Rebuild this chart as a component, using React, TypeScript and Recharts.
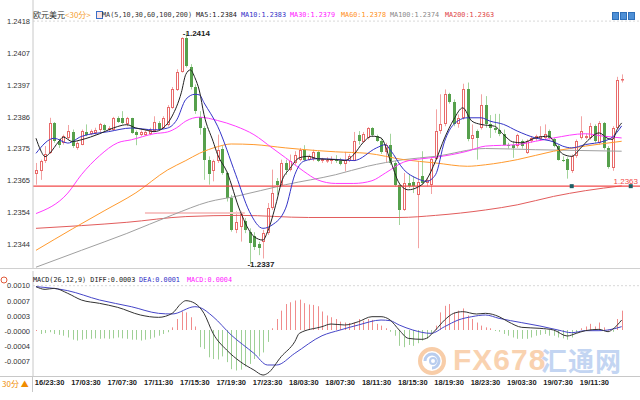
import React from 'react';
import { ComposedChart, Bar, Line, XAxis, YAxis, ReferenceLine, ReferenceDot } from 'recharts';

// [open, high, low, close] per 30-minute bar, bar 0 = 16/22:00
const ohlc: [number, number, number, number][] = [
  [1.23671,1.23707,1.23635,1.23685],[1.23681,1.23718,1.23651,1.23713],[1.23713,1.23763,1.23707,1.23737],[1.23740,1.23857,1.23737,1.23840],
  [1.23840,1.23843,1.23774,1.23779],[1.23779,1.23787,1.23757,1.23768],[1.23774,1.23801,1.23768,1.23796],[1.23790,1.23833,1.23785,1.23813],
  [1.23810,1.23818,1.23757,1.23763],[1.23757,1.23779,1.23751,1.23774],[1.23768,1.23818,1.23766,1.23813],[1.23810,1.23835,1.23796,1.23801],
  [1.23804,1.23818,1.23799,1.23813],[1.23807,1.23824,1.23801,1.23818],[1.23815,1.23840,1.23810,1.23835],[1.23833,1.23837,1.23813,1.23818],
  [1.23815,1.23829,1.23810,1.23824],[1.23818,1.23860,1.23815,1.23855],[1.23855,1.23862,1.23840,1.23844],[1.23855,1.23879,1.23835,1.23840],
  [1.23835,1.23860,1.23829,1.23855],[1.23855,1.23857,1.23804,1.23807],[1.23810,1.23815,1.23766,1.23801],[1.23801,1.23815,1.23796,1.23810],
  [1.23801,1.23815,1.23797,1.23810],[1.23804,1.23824,1.23799,1.23818],[1.23813,1.23862,1.23810,1.23844],[1.23840,1.23846,1.23817,1.23820],
  [1.23824,1.23862,1.23820,1.23855],[1.23833,1.23899,1.23828,1.23893],[1.23890,1.23959,1.23887,1.23951],[1.23950,1.24018,1.23946,1.24010],
  [1.24010,1.24124,1.24007,1.24121],[1.24121,1.24140,1.24024,1.24029],[1.24026,1.24035,1.23951,1.23959],[1.23959,1.23968,1.23870,1.23879],
  [1.23860,1.23879,1.23801,1.23824],[1.23824,1.23829,1.23651,1.23718],[1.23718,1.23729,1.23635,1.23671],[1.23679,1.23718,1.23646,1.23713],
  [1.23713,1.23801,1.23707,1.23751],[1.23755,1.23763,1.23668,1.23674],[1.23674,1.23679,1.23579,1.23590],[1.23590,1.23601,1.23479,1.23485],
  [1.23485,1.23546,1.23474,1.23510],[1.23493,1.23546,1.23446,1.23540],[1.23515,1.23524,1.23474,1.23485],[1.23477,1.23490,1.23372,1.23440],
  [1.23466,1.23477,1.23418,1.23429],[1.23437,1.23446,1.23401,1.23424],[1.23446,1.23485,1.23390,1.23474],[1.23474,1.23574,1.23468,1.23557],
  [1.23557,1.23685,1.23551,1.23607],[1.23646,1.23657,1.23601,1.23635],[1.23635,1.23718,1.23629,1.23707],[1.23707,1.23718,1.23668,1.23685],
  [1.23685,1.23735,1.23679,1.23713],[1.23707,1.23746,1.23701,1.23735],[1.23718,1.23757,1.23713,1.23751],[1.23751,1.23766,1.23713,1.23718],
  [1.23718,1.23735,1.23715,1.23729],[1.23721,1.23751,1.23713,1.23744],[1.23744,1.23746,1.23710,1.23715],[1.23713,1.23724,1.23707,1.23720],
  [1.23713,1.23726,1.23707,1.23718],[1.23715,1.23729,1.23704,1.23721],[1.23721,1.23733,1.23707,1.23713],[1.23715,1.23724,1.23699,1.23704],
  [1.23704,1.23744,1.23679,1.23717],[1.23715,1.23737,1.23710,1.23729],[1.23715,1.23810,1.23713,1.23779],[1.23799,1.23813,1.23768,1.23781],
  [1.23777,1.23810,1.23774,1.23804],[1.23790,1.23826,1.23785,1.23824],[1.23824,1.23826,1.23793,1.23799],[1.23796,1.23801,1.23777,1.23781],
  [1.23781,1.23790,1.23737,1.23744],[1.23744,1.23774,1.23710,1.23768],[1.23768,1.23804,1.23701,1.23707],[1.23707,1.23713,1.23629,1.23635],
  [1.23635,1.23640,1.23501,1.23551],[1.23551,1.23674,1.23548,1.23640],[1.23640,1.23668,1.23624,1.23629],[1.23644,1.23663,1.23607,1.23629],
  [1.23601,1.23713,1.23424,1.23644],[1.23663,1.23746,1.23635,1.23640],[1.23640,1.23657,1.23629,1.23651],[1.23635,1.23726,1.23604,1.23721],
  [1.23721,1.23885,1.23718,1.23813],[1.23813,1.23935,1.23804,1.23835],[1.23835,1.23951,1.23829,1.23935],[1.23935,1.23940,1.23904,1.23910],
  [1.23910,1.23918,1.23829,1.23835],[1.23835,1.23868,1.23824,1.23857],[1.23857,1.23970,1.23851,1.23951],[1.23951,1.23974,1.23779,1.23785],
  [1.23785,1.23835,1.23751,1.23801],[1.23813,1.23818,1.23718,1.23790],[1.23824,1.23935,1.23818,1.23901],[1.23901,1.23929,1.23824,1.23835],
  [1.23835,1.23866,1.23790,1.23824],[1.23824,1.23870,1.23807,1.23818],[1.23818,1.23870,1.23796,1.23804],[1.23804,1.23818,1.23766,1.23768],
  [1.23768,1.23774,1.23755,1.23763],[1.23766,1.23779,1.23724,1.23757],[1.23763,1.23804,1.23757,1.23799],[1.23779,1.23785,1.23755,1.23763],
  [1.23740,1.23785,1.23737,1.23779],[1.23779,1.23796,1.23774,1.23790],[1.23788,1.23801,1.23781,1.23796],[1.23788,1.23829,1.23781,1.23796],
  [1.23790,1.23835,1.23785,1.23804],[1.23813,1.23818,1.23785,1.23790],[1.23785,1.23790,1.23759,1.23763],[1.23763,1.23768,1.23715,1.23718],
  [1.23718,1.23729,1.23710,1.23715],[1.23721,1.23726,1.23655,1.23685],[1.23679,1.23735,1.23674,1.23729],[1.23729,1.23785,1.23724,1.23779],
  [1.23790,1.23862,1.23785,1.23813],[1.23790,1.23804,1.23785,1.23796],[1.23790,1.23840,1.23785,1.23829],[1.23829,1.23835,1.23774,1.23779],
  [1.23774,1.23846,1.23768,1.23840],[1.23840,1.23843,1.23751,1.23757],[1.23757,1.23763,1.23688,1.23693],[1.23690,1.23829,1.23681,1.23824],
  [1.23824,1.23993,1.23822,1.23981],[1.23981,1.24001,1.23974,1.23985],
];

// moving averages: [bar, value]
const ma5: [number, number][] = [[0,1.23789],[1,1.23750],[2,1.23728],[3,1.23739],[5,1.23778],[6,1.23793],[8,1.23778],[10,1.23784],[12,1.23793],[14,1.23804],[16,1.23817],[18,1.23828],[20,1.23834],[22,1.23823],[24,1.23817],[26,1.23811],[28,1.23823],[30,1.23863],[32,1.23940],[33,1.24001],[34,1.24016],[35,1.23990],[36,1.23946],[37,1.23868],[39,1.23779],[40,1.23735],[42,1.23679],[45,1.23546],[48,1.23463],[50,1.23451],[51,1.23479],[53,1.23579],[54,1.23640],[56,1.23690],[58,1.23724],[60,1.23729],[62,1.23721],[66,1.23718],[68,1.23715],[70,1.23735],[72,1.23774],[74,1.23796],[76,1.23790],[78,1.23718],[80,1.23640],[82,1.23618],[84,1.23626],[86,1.23651],[88,1.23713],[90,1.23790],[92,1.23851],[94,1.23890],[96,1.23846],[98,1.23835],[101,1.23829],[103,1.23801],[105,1.23777],[107,1.23774],[110,1.23790],[113,1.23796],[114,1.23779],[116,1.23737],[118,1.23729],[120,1.23757],[122,1.23788],[124,1.23807],[126,1.23788],[127,1.23785],[128,1.23818],[129,1.23840]];
const ma10: [number, number][] = [[0,1.23739],[4,1.23789],[7,1.23773],[10,1.23795],[16,1.23811],[21,1.23823],[26,1.23817],[29,1.23823],[31,1.23850],[33,1.23918],[35,1.23935],[36,1.23933],[37,1.23907],[40,1.23829],[44,1.23668],[47,1.23546],[50,1.23490],[52,1.23501],[55,1.23557],[57,1.23668],[59,1.23713],[62,1.23721],[67,1.23718],[70,1.23715],[75,1.23757],[77,1.23768],[78,1.23751],[81,1.23685],[84,1.23655],[86,1.23646],[88,1.23668],[90,1.23779],[92,1.23835],[95,1.23857],[98,1.23857],[100,1.23846],[103,1.23835],[106,1.23813],[110,1.23790],[114,1.23777],[116,1.23763],[118,1.23757],[121,1.23768],[125,1.23779],[127,1.23793],[129,1.23830]];
const ma30: [number, number][] = [[0,1.23539],[7,1.23607],[10,1.23668],[14,1.23731],[18,1.23774],[21,1.23784],[26,1.23804],[29,1.23810],[31,1.23824],[33,1.23846],[36,1.23859],[40,1.23848],[44,1.23829],[48,1.23801],[52,1.23757],[55,1.23724],[59,1.23679],[62,1.23651],[66,1.23639],[70,1.23639],[74,1.23648],[77,1.23674],[81,1.23710],[85,1.23721],[88,1.23726],[95,1.23746],[99,1.23763],[106,1.23768],[110,1.23779],[114,1.23790],[121,1.23804],[125,1.23796],[129,1.23790]];
const ma60: [number, number][] = [[0,1.23417],[8,1.23488],[15,1.23548],[22,1.23608],[29,1.23684],[33,1.23715],[36,1.23739],[40,1.23761],[43,1.23770],[48,1.23768],[55,1.23757],[62,1.23748],[66,1.23744],[73,1.23739],[81,1.23718],[88,1.23707],[95,1.23696],[99,1.23701],[106,1.23718],[114,1.23746],[121,1.23763],[129,1.23779]];
const ma100: [number, number][] = [[0,1.23361],[10,1.23417],[20,1.23473],[30,1.23534],[38,1.23578],[44,1.23596],[55,1.23635],[66,1.23668],[73,1.23696],[81,1.23718],[88,1.23729],[99,1.23755],[110,1.23751],[129,1.23746]];
const ma200: [number, number][] = [[0,1.23490],[10,1.23499],[20,1.23510],[33,1.23529],[45,1.23533],[60,1.23526],[80,1.23526],[88,1.23533],[99,1.23551],[106,1.23568],[114,1.23596],[121,1.23615],[129,1.23631]];
const ma200Ghost: [number, number][] = [[24,1.23541],[46,1.23541]];

// MACD(26,12,9)
const diff: [number, number][] = [[0,0.000985],[2,0.000924],[4,0.000947],[7,0.000833],[10,0.000682],[14,0.000606],[18,0.000515],[23,0.000341],[27,0.000288],[30,0.000379],[32,0.000606],[33,0.000667],[35,0.000606],[37,0.000379],[39,-0.000076],[42,-0.000455],[45,-0.000720],[48,-0.000909],[50,-0.001023],[51,-0.000985],[54,-0.000606],[57,-0.000265],[58,-0.000076],[63,0.000076],[65,0.000136],[68,0.000114],[71,0.000189],[74,0.000303],[76,0.000303],[78,0.000227],[80,0],[82,-0.000189],[85,-0.000212],[86,-0.000189],[88,0],[90,0.000227],[92,0.000379],[94,0.000417],[97,0.000364],[99,0.000379],[102,0.000303],[104,0.000189],[107,0.000061],[111,0.000038],[114,0],[117,-0.000136],[119,-0.000076],[121,-0.000015],[124,0.000015],[126,-0.000038],[127,0.000015],[129,0.000227]];
const dea: [number, number][] = [[0,0.000985],[7,0.000894],[14,0.000682],[21,0.000530],[27,0.000379],[30,0.000364],[35,0.000530],[36,0.000515],[39,0.000303],[43,-0.000114],[48,-0.000530],[51,-0.000795],[53,-0.000795],[57,-0.000530],[63,-0.000130],[67,0],[71,0.000114],[76,0.000227],[78,0.000212],[80,0.000114],[83,0],[87,-0.000076],[90,0.000076],[93,0.000227],[96,0.000303],[99,0.000341],[102,0.000265],[107,0.000167],[111,0.000091],[115,0],[118,-0.000061],[121,-0.000015],[124,-0.000015],[126,0],[129,0.000076]];
const macdHist: number[] = [
  0.00000,-0.00009,-0.00007,-0.00005,-0.00009,-0.00011,-0.00013,-0.00017,-0.00022,-0.00024,
  -0.00022,-0.00020,-0.00020,-0.00019,-0.00020,-0.00019,-0.00020,-0.00019,-0.00017,-0.00019,
  -0.00020,-0.00022,-0.00022,-0.00024,-0.00022,-0.00020,-0.00017,-0.00013,-0.00009,-0.00005,
  0.00006,0.00025,0.00042,0.00040,0.00029,0.00008,-0.00039,-0.00043,-0.00062,-0.00066,
  -0.00067,-0.00060,-0.00073,-0.00089,-0.00092,-0.00090,-0.00083,-0.00077,-0.00066,-0.00060,
  -0.00051,-0.00027,0.00004,0.00025,0.00044,0.00059,0.00063,0.00067,0.00069,0.00061,
  0.00058,0.00057,0.00054,0.00042,0.00033,0.00029,0.00025,0.00019,0.00017,0.00016,
  0.00017,0.00025,0.00021,0.00025,0.00023,0.00014,0.00010,0.00004,-0.00004,-0.00013,
  -0.00036,-0.00039,-0.00034,-0.00036,-0.00030,-0.00024,-0.00020,-0.00009,0.00010,0.00040,
  0.00055,0.00059,0.00040,0.00044,0.00049,0.00033,0.00025,0.00017,0.00010,0.00006,
  0.00004,-0.00002,-0.00004,-0.00009,-0.00013,-0.00017,-0.00020,-0.00020,-0.00020,-0.00017,
  -0.00013,-0.00011,-0.00009,-0.00013,-0.00013,-0.00017,-0.00019,-0.00022,-0.00017,-0.00007,
  0.00004,0.00008,0.00014,0.00008,0.00017,0.00006,0.00001,-0.00004,0.00025,0.00044,
];

const timeTicks = [3, 11, 19, 27, 35, 43, 51, 59, 67, 75, 83, 91, 99, 107, 115, 123];
const timeLabels = ['16/23:30','17/03:30','17/07:30','17/11:30','17/15:30','17/19:30','17/23:30','18/03:30','18/07:30','18/11:30','18/15:30','18/19:30','18/23:30','19/03:30','19/07:30','19/11:30'];
const priceTicks = [1.24178, 1.24072, 1.23966, 1.2386, 1.23754, 1.23648, 1.23542, 1.23436];
const macdTicks = [0.001007, 0.000662, 0.000318, -0.000027, -0.000372, -0.000716];

const lastMA200 = 1.2363;
const highMark = { bar: 33, value: 1.2414 };
const lowMark = { bar: 47, value: 1.2337 };

const X_DOMAIN: [number, number] = [-0.66, 133.04];
const P_DOMAIN: [number, number] = [1.23355, 1.24248];
const M_DOMAIN: [number, number] = [-0.001045, 0.001341];

const lookup = (pts: [number, number][]) => {
  const m = new Map<number, number>();
  pts.forEach(([i, v]) => m.set(i, v));
  return m;
};
const L5 = lookup(ma5), L10 = lookup(ma10), L30 = lookup(ma30), L60 = lookup(ma60), L100 = lookup(ma100), L200 = lookup(ma200), LG = lookup(ma200Ghost);
const LDIFF = lookup(diff), LDEA = lookup(dea);

const mainRows = ohlc.map(([o, h, l, c], i) => ({
  i, o, h, l, c, range: [l, h],
  ma5: L5.get(i), ma10: L10.get(i), ma30: L30.get(i), ma60: L60.get(i), ma100: L100.get(i), ma200: L200.get(i), ghost: LG.get(i),
}));
const macdRows = macdHist.map((m, i) => ({ i, m, diff: LDIFF.get(i), dea: LDEA.get(i) }));

const RED = '#e86a6a';
const RED_WICK = '#f2a3a3';
const GREEN = '#56a04c';
const GREEN_WICK = '#a3d49c';

const Candle = (props: any) => {
  const { x, y, width, height, payload } = props;
  if (x == null || y == null || !payload) return null;
  const cx = Math.round(x + width / 2) + 0.5;
  const top = Math.min(y, y + height);
  const bot = Math.max(y, y + height);
  const { o, h, l, c } = payload;
  const span = h - l;
  const py = (v: number) => (span === 0 ? top : top + ((h - v) / span) * (bot - top));
  const up = c >= o;
  const bTop = Math.round(py(Math.max(o, c)));
  let bBot = Math.round(py(Math.min(o, c)));
  if (bBot - bTop < 1) bBot = bTop + 1;
  if (up) {
    return (
      <g>
        <line x1={cx} x2={cx} y1={top} y2={bTop} stroke={RED_WICK} strokeWidth={1} />
        <line x1={cx} x2={cx} y1={bBot} y2={bot} stroke={RED_WICK} strokeWidth={1} />
        <rect x={cx - 1} y={bTop + 0.5} width={2} height={Math.max(bBot - bTop - 1, 0.5)} fill="#fff" stroke={RED} strokeWidth={1} />
      </g>
    );
  }
  return (
    <g>
      <line x1={cx} x2={cx} y1={top} y2={bot} stroke={GREEN_WICK} strokeWidth={1} />
      <rect x={cx - 1.5} y={bTop} width={3} height={bBot - bTop} fill={GREEN} />
    </g>
  );
};

const HistBar = (props: any) => {
  const { x, y, width, height, payload } = props;
  if (x == null || y == null || !payload) return null;
  const cx = Math.round(x + width / 2) + 0.5;
  const y1 = Math.min(y, y + height);
  const y2 = Math.max(y, y + height);
  const pos = payload.m >= 0;
  return <line x1={cx} x2={cx} y1={y1} y2={Math.max(y2, y1 + 1)} stroke={pos ? '#f08c8c' : '#9fd096'} strokeWidth={1} />;
};

const axisTick = { fontSize: 7.5, fill: '#333', fontFamily: 'Liberation Sans, Arial, sans-serif' };
const mono = '"DejaVu Sans Mono", "Liberation Mono", monospace';
const LEG = 6.8;

const abs = (left: number, top: number, extra: React.CSSProperties = {}): React.CSSProperties => ({
  position: 'absolute', left, top, whiteSpace: 'nowrap', lineHeight: 1, ...extra,
});

export default function App() {
  return (
    <div style={{ position: 'absolute', left: 0, top: 0, width: 640, height: 400, background: '#fff', overflow: 'hidden', fontFamily: 'Liberation Sans, Arial, sans-serif' }}>
      {/* watermark */}
      <svg style={{ position: 'absolute', left: 416, top: 345 }} width={32} height={32}>
        <circle cx={16} cy={16} r={12} fill="none" stroke="#f8cda8" strokeWidth={4} />
        <path d="M 9 16 A 7 7 0 1 1 16 23" fill="none" stroke="#b9cdee" strokeWidth={3} />
        <circle cx={17} cy={16} r={3} fill="none" stroke="#b9cdee" strokeWidth={2} />
      </svg>
      <div style={abs(453, 345, { fontSize: 30, fontWeight: 'bold', color: '#f9d2b0', letterSpacing: 1 })}>FX678</div>
      <div style={abs(541, 347, { fontSize: 26, fontWeight: 'bold', color: '#c3d5f2', fontFamily: '"Noto Sans CJK SC", sans-serif', letterSpacing: 1 })}>汇通网</div>

      {/* price panel */}
      <div style={{ position: 'absolute', left: 0, top: 0 }}>
        <ComposedChart width={640} height={269} data={mainRows} margin={{ top: 0, right: 0, bottom: 0, left: 0 }}>
          <XAxis dataKey="i" type="number" domain={X_DOMAIN} allowDataOverflow hide />
          <YAxis type="number" domain={P_DOMAIN} allowDataOverflow ticks={priceTicks} interval={0}
            tickFormatter={(v: number) => v.toFixed(4)} width={33} tickSize={0} tickMargin={3}
            tick={axisTick} axisLine={{ stroke: '#c8c8c8' }} tickLine={false} />
          <ReferenceLine y={priceTicks[0]} stroke="#d8d8d8" strokeDasharray="2 2" />
          <Line dataKey="ma200" type="monotone" stroke="#e25c5c" strokeWidth={1} dot={false} connectNulls isAnimationActive={false} />
          <Line dataKey="ghost" type="linear" stroke="#f7c6c6" strokeWidth={2} dot={false} connectNulls isAnimationActive={false} />
          <Line dataKey="ma100" type="monotone" stroke="#a0a0a0" strokeWidth={1} dot={false} connectNulls isAnimationActive={false} />
          <Line dataKey="ma60" type="monotone" stroke="#ff9a2e" strokeWidth={1} dot={false} connectNulls isAnimationActive={false} />
          <Line dataKey="ma30" type="monotone" stroke="#ff3cff" strokeWidth={1} dot={false} connectNulls isAnimationActive={false} />
          <ReferenceLine y={lastMA200} stroke="#f24a4a" strokeWidth={1.2}
            label={{ value: lastMA200.toFixed(4), position: 'insideBottomRight', fill: '#f24a4a', fontSize: 8, offset: 2 }} />
          <Bar dataKey="range" barSize={3} shape={Candle} isAnimationActive={false} />
          <Line dataKey="ma10" type="monotone" stroke="#3434c8" strokeWidth={1} dot={false} connectNulls isAnimationActive={false} />
          <Line dataKey="ma5" type="monotone" stroke="#222" strokeWidth={1} dot={false} connectNulls isAnimationActive={false} />
          <ReferenceDot x={118} y={lastMA200} r={2} shape={(p: any) => <rect x={p.cx - 2} y={p.cy - 2} width={4} height={4} fill="#1e5f66" />} />
          <ReferenceDot x={131} y={lastMA200} r={2} shape={(p: any) => <rect x={p.cx - 2} y={p.cy - 2} width={4} height={4} fill="#1e5f66" />} />
          <ReferenceDot x={highMark.bar} y={highMark.value} r={0}
            shape={(p: any) => <text x={p.cx - 3} y={p.cy + 3} fontSize={8} fontWeight="bold" fill="#222">{'-' + highMark.value.toFixed(4)}</text>} />
          <ReferenceDot x={lowMark.bar} y={lowMark.value} r={0}
            shape={(p: any) => <text x={p.cx - 2} y={p.cy + 3} fontSize={8} fontWeight="bold" fill="#222">{'-' + lowMark.value.toFixed(4)}</text>} />
        </ComposedChart>
      </div>

      {/* MACD panel */}
      <div style={{ position: 'absolute', left: 0, top: 270 }}>
        <ComposedChart width={640} height={130} data={macdRows} margin={{ top: 1, right: 0, bottom: 0, left: 0 }}>
          <XAxis dataKey="i" type="number" domain={X_DOMAIN} allowDataOverflow ticks={timeTicks} interval={0}
            tickFormatter={(v: number) => timeLabels[timeTicks.indexOf(v)] ?? ''} height={24}
            tickSize={0} tickMargin={4} axisLine={false} tickLine={false}
            tick={{ fontSize: 7.5, fill: '#222', fontWeight: 'bold', fontFamily: 'Liberation Sans, Arial, sans-serif' }} />
          <YAxis type="number" domain={M_DOMAIN} allowDataOverflow ticks={macdTicks} interval={0}
            tickFormatter={(v: number) => v.toFixed(4)} width={33} tickSize={0} tickMargin={3}
            tick={axisTick} axisLine={{ stroke: '#c8c8c8' }} tickLine={false} />
          <ReferenceLine y={macdTicks[0]} stroke="#d8d8d8" strokeDasharray="2 2" />
          <Bar dataKey="m" barSize={1} shape={HistBar} isAnimationActive={false} />
          <Line dataKey="dea" type="monotone" stroke="#4646c8" strokeWidth={1} dot={false} connectNulls isAnimationActive={false} />
          <Line dataKey="diff" type="monotone" stroke="#333" strokeWidth={1} dot={false} connectNulls isAnimationActive={false} />
        </ComposedChart>
      </div>

      {/* separators */}
      <div style={{ position: 'absolute', left: 0, top: 268, width: 640, height: 1, background: '#d0d0d0' }} />
      <div style={{ position: 'absolute', left: 0, top: 376, width: 640, height: 1, background: '#c8c8c8' }} />
      <div style={{ position: 'absolute', left: 32, top: 376, width: 1, height: 16, background: '#c8c8c8' }} />

      {/* legends */}
      <div style={abs(33, 10.5, { fontSize: 8, color: '#333', fontFamily: '"Noto Sans CJK SC", sans-serif' })}>
        欧元美元<span style={{ color: '#f5a030' }}>&lt;30分&gt;</span>
      </div>
      <div style={abs(96, 11, { width: 5, height: 6, border: '1px solid #3a6fc8', background: '#fbe3e3' })} />
      <div style={abs(102, 11.5, { fontSize: LEG, fontFamily: mono, color: '#333' })}>MA(5,10,30,60,100,200)</div>
      <div style={abs(196, 11.5, { fontSize: LEG, fontFamily: mono, color: '#222' })}>MA5:1.2384</div>
      <div style={abs(241, 11.5, { fontSize: LEG, fontFamily: mono, color: '#3434c8' })}>MA10:1.2383</div>
      <div style={abs(290, 11.5, { fontSize: LEG, fontFamily: mono, color: '#ff22ff' })}>MA30:1.2379</div>
      <div style={abs(341, 11.5, { fontSize: LEG, fontFamily: mono, color: '#ff9020' })}>MA60:1.2378</div>
      <div style={abs(390, 11.5, { fontSize: LEG, fontFamily: mono, color: '#8a8a8a' })}>MA100:1.2374</div>
      <div style={abs(445, 11.5, { fontSize: LEG, fontFamily: mono, color: '#e04848' })}>MA200:1.2363</div>
      {[612, 620, 628].map((l) => (
        <div key={l} style={abs(l, 12, { width: 7, height: 8, background: '#4d8fd6', border: '1px solid #2f6fb8', boxSizing: 'border-box' })} />
      ))}

      <svg style={{ position: 'absolute', left: 0, top: 275 }} width={10} height={10}>
        <circle cx={4} cy={5} r={3} fill="none" stroke="#e05a3a" strokeWidth={1} />
      </svg>
      <div style={abs(33, 277, { fontSize: LEG, fontFamily: mono, color: '#222' })}>MACD(26,12,9) DIFF:0.0003</div>
      <div style={abs(139, 277, { fontSize: LEG, fontFamily: mono, color: '#3434c8' })}>DEA:0.0001</div>
      <div style={abs(187, 277, { fontSize: LEG, fontFamily: mono, color: '#ff22ff' })}>MACD:0.0004</div>

      <div style={abs(2, 380, { fontSize: 8, color: '#f08c00', fontFamily: '"Noto Sans CJK SC", sans-serif' })}>30分 ▲</div>
    </div>
  );
}
